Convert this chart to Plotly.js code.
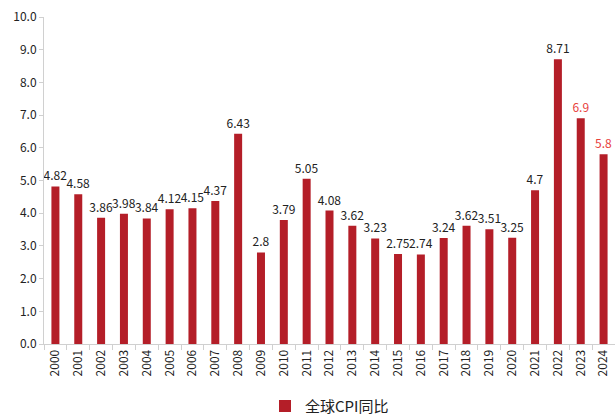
<!DOCTYPE html>
<html><head><meta charset="utf-8">
<script src="https://cdn.plot.ly/plotly-3.0.1.min.js"></script>
<style>html,body{margin:0;padding:0;background:#fff}#c{width:615px;height:417px}</style>
</head><body><div id="c"></div>
<script>
const years = ["2000","2001","2002","2003","2004","2005","2006","2007","2008","2009","2010","2011","2012","2013","2014","2015","2016","2017","2018","2019","2020","2021","2022","2023","2024"];
const cpi = [4.82,4.58,3.86,3.98,3.84,4.12,4.15,4.37,6.43,2.8,3.79,5.05,4.08,3.62,3.23,2.75,2.74,3.24,3.62,3.51,3.25,4.7,8.71,6.9,5.8];
const forecast = [false,false,false,false,false,false,false,false,false,false,false,false,false,false,false,false,false,false,false,false,false,false,false,true,true];
const seriesName = "全球CPI同比";

const font = "Noto Sans CJK SC, Noto Sans, sans-serif";
const trace = {
  type: "bar", x: years, y: cpi, name: seriesName,
  marker: {color: "#b41e28"},
  text: cpi.map(v => String(v)),
  textposition: "outside",
  constraintext: "none",
  textfont: {family: font, size: 12, color: forecast.map(f => f ? "#e8413c" : "#222")},
  cliponaxis: false,
  hoverinfo: "none"
};
const layout = {
  width: 615, height: 417,
  margin: {l: 44, r: 0, t: 17, b: 73, autoexpand: false},
  paper_bgcolor: "#fff", plot_bgcolor: "#fff",
  font: {family: font, size: 12, color: "#222"},
  bargap: 0.65,
  showlegend: true,
  legend: {orientation: "h", x: 0.5, xanchor: "center", yref: "container", y: 0.026, yanchor: "middle", font: {size: 15, color: "#222"}},
  xaxis: {
    type: "category", showline: true, linecolor: "#d0d0d0", linewidth: 1, automargin: false,
    ticks: "outside", tickson: "boundaries", ticklen: 5, tickcolor: "#d0d0d0",
    tickangle: -90, tickfont: {size: 12, color: "#222"}, showgrid: false, fixedrange: true
  },
  yaxis: {
    range: [0, 10], dtick: 1, tickformat: ".1f", showline: true, linecolor: "#d0d0d0", linewidth: 1, automargin: false,
    ticks: "outside", ticklen: 4, tickcolor: "#d0d0d0", showgrid: false, zeroline: false,
    tickfont: {size: 12, color: "#222"}, fixedrange: true
  }
};
Plotly.newPlot("c", [trace], layout, {staticPlot: true});
</script></body></html>
